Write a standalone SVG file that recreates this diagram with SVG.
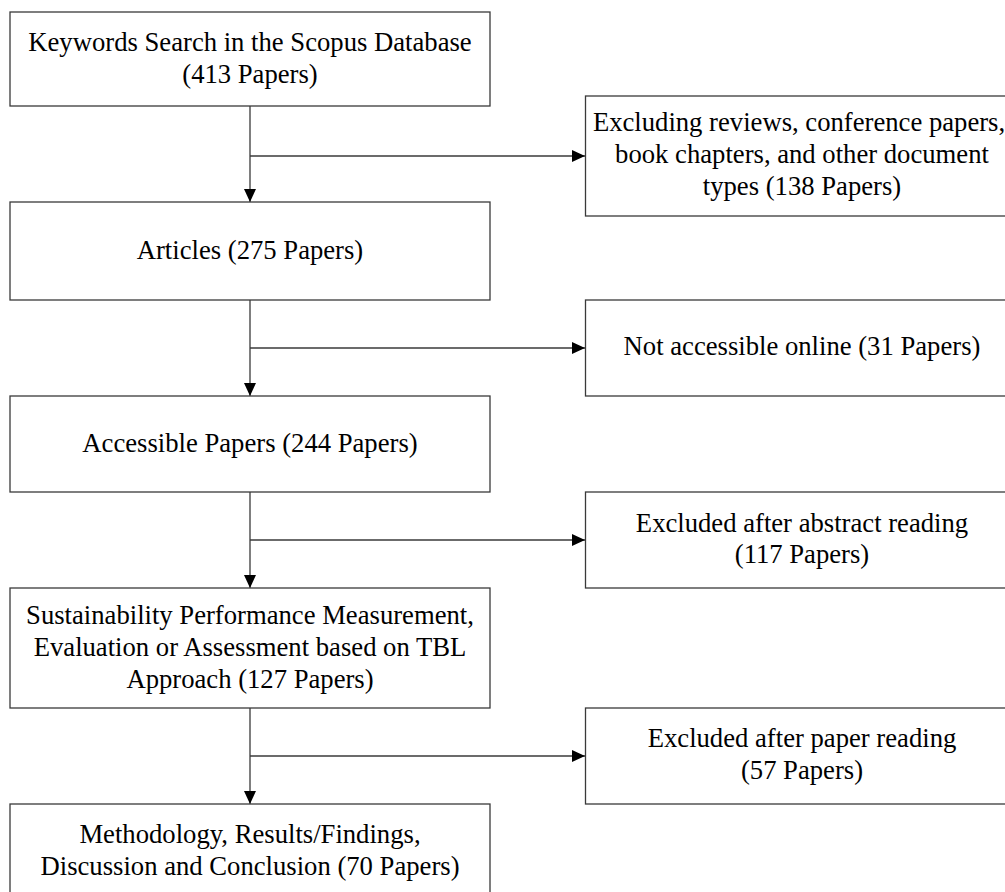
<svg xmlns="http://www.w3.org/2000/svg" width="1005" height="892" viewBox="0 0 1005 892">
<style>
.box{fill:#fff;stroke:#3a3a3a;stroke-width:1.3}
.t{font-family:"Liberation Serif","Times New Roman",serif;font-size:26.67px;fill:#000;text-anchor:middle}
.c{fill:none;stroke:#3a3a3a;stroke-width:1.3}
</style>
<defs>
<marker id="ah" markerUnits="userSpaceOnUse" markerWidth="14" markerHeight="12" refX="13" refY="6" orient="auto">
<path d="M0,0 L13,6 L0,12 z" fill="#000"/>
</marker>
</defs>
<rect width="1005" height="892" fill="#fff"/>
<g id="connectors">
<path class="c" d="M250,106 V202" marker-end="url(#ah)"/>
<path class="c" d="M250,156 H585" marker-end="url(#ah)"/>
<path class="c" d="M250,300 V396" marker-end="url(#ah)"/>
<path class="c" d="M250,348 H585" marker-end="url(#ah)"/>
<path class="c" d="M250,492 V588" marker-end="url(#ah)"/>
<path class="c" d="M250,540 H585" marker-end="url(#ah)"/>
<path class="c" d="M250,708 V804" marker-end="url(#ah)"/>
<path class="c" d="M250,756 H585" marker-end="url(#ah)"/>
</g>
<g id="n1">
<rect class="box" x="10" y="12" width="480" height="94"/>
<text class="t" x="250" y="51">Keywords Search in the Scopus Database</text>
<text class="t" x="250" y="83">(413 Papers)</text>
</g>
<g id="n2">
<rect class="box" x="10" y="202" width="480" height="98"/>
<text class="t" x="250" y="259">Articles (275 Papers)</text>
</g>
<g id="n3">
<rect class="box" x="10" y="396" width="480" height="96"/>
<text class="t" x="250" y="452">Accessible Papers (244 Papers)</text>
</g>
<g id="n4">
<rect class="box" x="10" y="588" width="480" height="120"/>
<text class="t" x="250" y="624">Sustainability Performance Measurement,</text>
<text class="t" x="250" y="656">Evaluation or Assessment based on TBL</text>
<text class="t" x="250" y="688">Approach (127 Papers)</text>
</g>
<g id="n5">
<rect class="box" x="10" y="804" width="480" height="100"/>
<text class="t" x="250" y="843">Methodology, Results/Findings,</text>
<text class="t" x="250" y="875">Discussion and Conclusion (70 Papers)</text>
</g>
<g id="r1">
<rect class="box" x="585.5" y="96" width="433" height="120"/>
<text class="t" x="799" y="131">Excluding reviews, conference papers,</text>
<text class="t" x="802" y="163">book chapters, and other document</text>
<text class="t" x="802" y="195">types (138 Papers)</text>
</g>
<g id="r2">
<rect class="box" x="585.5" y="300" width="433" height="96"/>
<text class="t" x="802" y="355">Not accessible online (31 Papers)</text>
</g>
<g id="r3">
<rect class="box" x="585.5" y="492" width="433" height="96"/>
<text class="t" x="802" y="532">Excluded after abstract reading</text>
<text class="t" x="802" y="563">(117 Papers)</text>
</g>
<g id="r4">
<rect class="box" x="585.5" y="708" width="433" height="96"/>
<text class="t" x="802" y="747">Excluded after paper reading</text>
<text class="t" x="802" y="779">(57 Papers)</text>
</g>
</svg>
